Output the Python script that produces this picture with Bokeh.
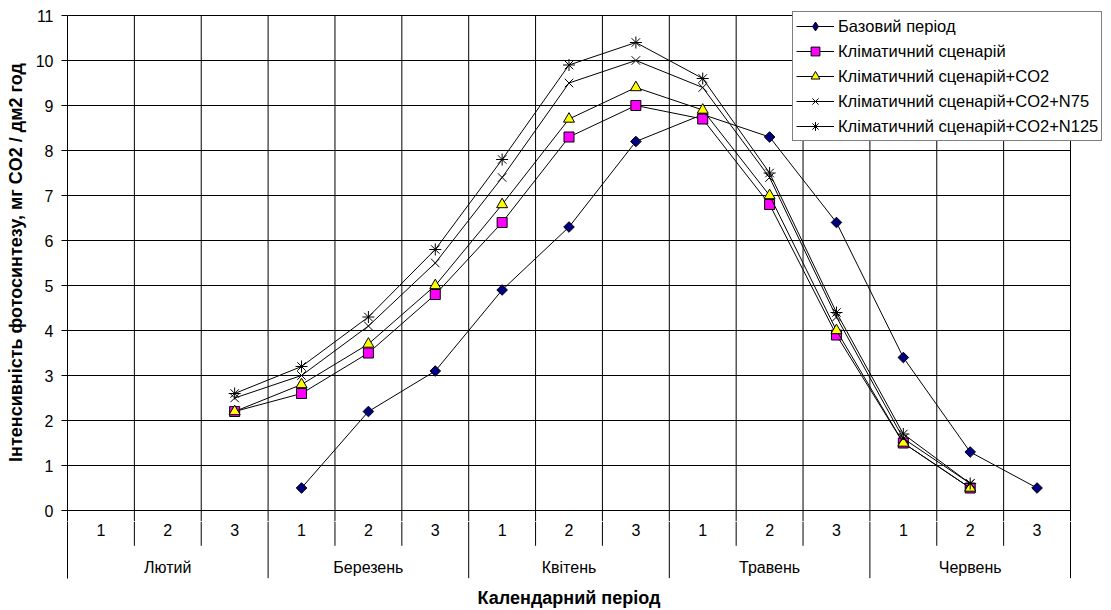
import numpy as np
from bokeh.plotting import figure
from bokeh.layouts import column
from bokeh.models import Range1d, FixedTicker, Legend, LegendItem, ColumnDataSource
from bokeh.core.properties import value
from bokeh.embed import file_html
from bokeh.resources import INLINE

nan = float("nan")
months = ["Лютий", "Березень", "Квітень", "Травень", "Червень"]
decades = ["1", "2", "3"]
base = [nan, nan, nan, 0.5, 2.2, 3.1, 4.9, 6.3, 8.2, 8.8, 8.3, 6.4, 3.4, 1.3, 0.5]
climate = [nan, nan, 2.2, 2.6, 3.5, 4.8, 6.4, 8.3, 9.0, 8.7, 6.8, 3.9, 1.5, 0.5, nan]
co2 = [nan, nan, 2.2, 2.8, 3.7, 5.0, 6.8, 8.7, 9.4, 8.9, 7.0, 4.0, 1.5, 0.5, nan]
n75 = [nan, nan, 2.5, 3.0, 4.1, 5.5, 7.4, 9.5, 10.0, 9.4, 7.4, 4.3, 1.6, 0.6, nan]
n125 = [nan, nan, 2.6, 3.2, 4.3, 5.8, 7.8, 9.9, 10.4, 9.6, 7.5, 4.4, 1.7, 0.6, nan]
y_ticks = list(range(0, 12))
series_names = ["Базовий період", "Кліматичний сценарій", "Кліматичний сценарій+CO2",
                "Кліматичний сценарій+CO2+N75", "Кліматичний сценарій+CO2+N125"]
y_title = "Інтенсивність фотосинтезу, мг CO2 / дм2 год"
x_title = "Календарний період"

FONT = "Liberation Sans"
FS = "16px"
FS_TITLE = "18px"
n_cat = len(months) * len(decades)
xs = list(range(1, n_cat + 1))
y_max = max(y_ticks)

# layout geometry (pixels)
LEFT = 67
CAT_W = 1003 / n_cat          # width of one category
FRAME_W = 1043                # frame extends past the legend's right edge
PX_PER_Y = 45
x_end = 0.5 + FRAME_W / CAT_W
y_lo = -11 / PX_PER_Y         # frame bottom (11 px under the zero line)
y_hi = y_max + 12 / PX_PER_Y  # frame top (12 px above the top line)

# ---------------- main plot ----------------
p = figure(width=1111, height=521, output_backend="svg", toolbar_location=None,
           x_range=Range1d(0.5, x_end), y_range=Range1d(y_lo, y_hi),
           frame_width=FRAME_W, frame_height=518,
           min_border_left=LEFT, min_border_top=3, min_border_right=1, min_border_bottom=0)
p.outline_line_color = None
p.background_fill_color = "white"
p.border_fill_color = "white"
p.xaxis.visible = False
p.xgrid.visible = False
p.ygrid.visible = False
p.yaxis.ticker = FixedTicker(ticks=y_ticks)
p.yaxis.bounds = (y_lo, y_max)
p.yaxis.major_tick_out = 6
p.yaxis.major_tick_in = 0
p.yaxis.minor_tick_line_color = None
p.yaxis.axis_line_color = "black"
p.yaxis.major_tick_line_color = "black"
p.yaxis.major_label_text_font = FONT
p.yaxis.major_label_text_font_size = FS
p.yaxis.major_label_text_color = "black"
p.yaxis.major_label_standoff = 8
p.yaxis.axis_label = y_title
p.yaxis.axis_label_text_font = FONT
p.yaxis.axis_label_text_font_size = FS_TITLE
p.yaxis.axis_label_text_font_style = "bold"
p.yaxis.axis_label_text_color = "black"
p.yaxis.axis_label_standoff = 7

# grid lines
p.segment(x0=[0.5] * len(y_ticks), y0=y_ticks, x1=[n_cat + 0.5] * len(y_ticks), y1=y_ticks,
          line_color="black", line_width=1)
bx = [k + 0.5 for k in range(1, n_cat + 1)]
p.segment(x0=bx, y0=[y_lo] * n_cat, x1=bx, y1=[y_max] * n_cat, line_color="black", line_width=1)

items = []
styles = [
    dict(marker="square", size=7.5, angle=np.pi / 4, fill_color="#000080", legend_marker="diamond", legend_size=12),
    dict(marker="square", size=10, angle=0, fill_color="#FF00FF"),
    dict(marker="triangle", size=11, angle=0, fill_color="#FFFF00"),
    dict(marker="x", size=12, angle=0, fill_color=None),
    dict(marker="asterisk", size=12, angle=0, fill_color=None),
]
for name, ys, st in zip(series_names, [base, climate, co2, n75, n125], styles):
    src = ColumnDataSource(dict(x=xs, y=ys))
    lr = p.line("x", "y", source=src, line_color="black", line_width=1)
    sr = p.scatter("x", "y", source=src, marker=st["marker"], size=st["size"], angle=st["angle"],
                   fill_color=st["fill_color"], line_color="black", line_width=1)
    rends = [lr, sr]
    if "legend_marker" in st:
        # legend swatch (the legend does not rotate markers); its one point is the
        # series' first (empty) value, so nothing is drawn in the plot itself
        proxy = p.scatter(x=xs[:1], y=ys[:1], marker=st["legend_marker"], size=st["legend_size"],
                          fill_color=st["fill_color"], line_color="black", line_width=1)
        rends = [lr, proxy]
    items.append(LegendItem(label=name, renderers=rends))

legend = Legend(items=items, location=(725, 380), orientation="vertical")
legend.label_text_font = FONT
legend.label_text_font_size = "16.5px"
legend.label_text_color = "black"
legend.glyph_width = 38
legend.glyph_height = 22
legend.label_height = 22
legend.label_standoff = 4
legend.padding = 3
legend.spacing = 3
legend.margin = 0
legend.border_line_color = "black"
legend.border_line_width = 1
legend.background_fill_color = "white"
legend.background_fill_alpha = 1
p.add_layout(legend)

# ---------------- category axis panel ----------------
q = figure(width=1111, height=89, output_backend="svg", toolbar_location=None,
           x_range=p.x_range, y_range=Range1d(-99, -11),
           frame_width=FRAME_W, frame_height=89,
           min_border_left=LEFT, min_border_top=0, min_border_right=1, min_border_bottom=0)
q.outline_line_color = None
q.background_fill_color = "white"
q.border_fill_color = "white"
q.xaxis.visible = False
q.xgrid.visible = False
q.ygrid.visible = False
q.yaxis.ticker = FixedTicker(ticks=[])
q.yaxis.minor_tick_line_color = None
q.yaxis.major_tick_line_color = None
q.yaxis.axis_line_color = "black"
q.yaxis.bounds = (-67, -11)

sep_short, sep_long = -35, -67
q.segment(x0=bx, y0=[-11] * n_cat, x1=bx,
          y1=[sep_long if k % len(decades) == 0 else sep_short for k in range(1, n_cat + 1)],
          line_color="black", line_width=1)
q.text(x=xs, y=[-19] * n_cat, text=decades * len(months), text_align="center",
       text_baseline="middle", text_font=value(FONT), text_font_size=FS, text_color="black")
mx = [len(decades) * i + (len(decades) + 1) / 2 for i in range(len(months))]
q.text(x=mx, y=[-56] * len(months), text=months, text_align="center",
       text_baseline="middle", text_font=value(FONT), text_font_size=FS, text_color="black")
q.text(x=[(n_cat + 1) / 2], y=[-87], text=[x_title], text_align="center",
       text_baseline="middle", text_font=value(FONT), text_font_size=FS_TITLE,
       text_font_style="bold", text_color="black")

layout = column(p, q, spacing=0)
open("out.html", "w").write(file_html(layout, INLINE))
